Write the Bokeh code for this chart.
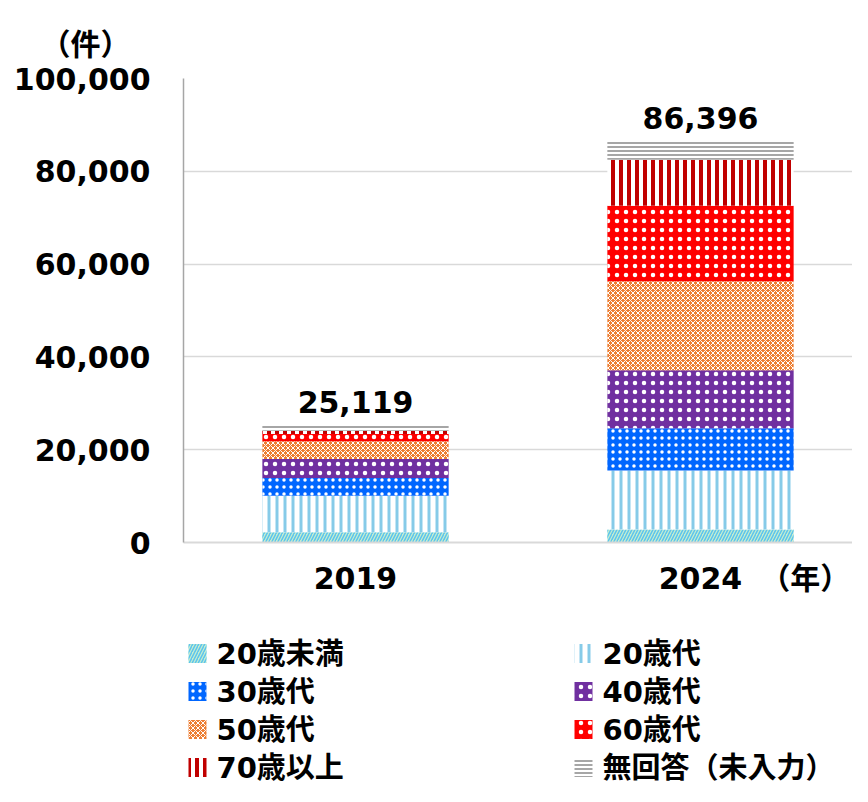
from bokeh.plotting import figure
from bokeh.layouts import column
from bokeh.models import (ColumnDataSource, FixedTicker, NumeralTickFormatter,
                          LabelSet, Range1d, Title)
from bokeh.core.properties import value
from bokeh.embed import file_html
from bokeh.resources import INLINE

# ---- data ----
years = ["2019", "2024"]
groups = ["20歳未満", "20歳代", "30歳代", "40歳代", "50歳代", "60歳代", "70歳以上", "無回答（未入力）"]
under20 = [2200, 2800]
age20s = [7900, 12700]
age30s = [3800, 9100]
age40s = [4100, 12500]
age50s = [3800, 19200]
age60s = [1600, 16300]
age70plus = [700, 9900]
no_answer = [1019, 3896]
y_ticks = [0, 20000, 40000, 60000, 80000, 100000]
y_unit = "（件）"
x_unit = "（年）"

series = [under20, age20s, age30s, age40s, age50s, age60s, age70plus, no_answer]
totals = [sum(v) for v in zip(*series)]
xpos = list(range(len(years)))

# ---- styles ----
FONT = "'DejaVu Sans', 'Noto Sans CJK JP'"
fills = ["#C4EDCF", "white", "#0066FF", "#7030A0", "#ED7D31", "#FF0000", "white", "white"]
hatches = ["/", "|", ".", ".", "x", ".", "|", "-"]
hcolors = ["#5BC4EE", "#86CBE8", "white", "white", "white", "white", "#C00000", "#A6A6A6"]
hscales = [6, 8, 7, 9, 5, 9, 8, 4]
hweights = [1.5, 3, 2, 2, 1, 2, 4, 2]

data = {"x": xpos}
for g, s in zip(groups, series):
    data[g] = s
source = ColumnDataSource(data)

# ---- main chart ----
p = figure(width=852, height=610, output_backend="svg", toolbar_location=None,
           x_range=Range1d(-0.4986, 1.4406), y_range=Range1d(0, 100000),
           min_border_left=183, min_border_right=0, min_border_top=78, min_border_bottom=68)
p.outline_line_color = None
p.background_fill_color = "white"
p.border_fill_color = "white"

p.vbar_stack(groups, x="x", width=0.54, source=source,
             fill_color=fills, hatch_pattern=hatches, hatch_color=hcolors,
             hatch_scale=hscales, hatch_weight=hweights, line_color=None)

p.xgrid.grid_line_color = None
p.ygrid.grid_line_color = "#D9D9D9"
p.ygrid.grid_line_width = 1.5
p.ygrid.ticker = FixedTicker(ticks=y_ticks)

p.yaxis.ticker = FixedTicker(ticks=y_ticks)
p.yaxis.formatter = NumeralTickFormatter(format="0,0")
p.yaxis.major_label_text_font = FONT
p.yaxis.major_label_text_font_style = "bold"
p.yaxis.major_label_text_font_size = "30px"
p.yaxis.major_label_text_color = "black"
p.yaxis.major_label_standoff = 27
p.yaxis.major_tick_line_color = None
p.yaxis.minor_tick_line_color = None
p.yaxis.axis_line_color = "#A6A6A6"
p.yaxis.axis_line_width = 1.5

unit_pos = xpos[-1] + 0.304
p.xaxis.ticker = FixedTicker(ticks=xpos + [unit_pos])
overrides = {i: y for i, y in zip(xpos, years)}
overrides[unit_pos] = x_unit
p.xaxis.major_label_overrides = overrides
p.xaxis.major_label_text_font = FONT
p.xaxis.major_label_text_font_style = "bold"
p.xaxis.major_label_text_font_size = "30px"
p.xaxis.major_label_text_color = "black"
p.xaxis.major_label_standoff = 12
p.xaxis.major_tick_line_color = None
p.xaxis.minor_tick_line_color = None
p.xaxis.axis_line_color = "#D9D9D9"
p.xaxis.axis_line_width = 2

lab_src = ColumnDataSource({"x": xpos, "y": totals, "t": [f"{t:,}" for t in totals]})
p.add_layout(LabelSet(x="x", y="y", text="t", source=lab_src, text_align="center",
                      text_baseline="alphabetic", y_offset=13, text_font=value(FONT),
                      text_font_style="bold", text_font_size="30px", text_color="black"))

p.add_layout(Title(text=y_unit, align="left", offset=-143, standoff=30, vertical_align="top",
                   text_font=FONT, text_font_style="bold", text_font_size="30px",
                   text_color="black"), "above")

# ---- legend panel (2 columns, read row by row); its frame aligns with the chart frame ----
LX0, LX1, LH = 183, 852, 176
col_x = [188, 574]
row_y0, row_pitch = 43, 38
sw_x = [col_x[i % 2] + 9 for i in range(len(groups))]
sw_y = [row_y0 + row_pitch * (i // 2) for i in range(len(groups))]
tx = [col_x[i % 2] + 28 for i in range(len(groups))]
leg_src = ColumnDataSource({"sx": sw_x, "sy": sw_y, "tx": tx, "label": groups,
                            "fill": fills, "hatch": hatches, "hcolor": hcolors,
                            "hscale": hscales, "hweight": hweights})

lg = figure(width=852, height=LH, output_backend="svg", toolbar_location=None,
            x_range=Range1d(LX0, LX1), y_range=Range1d(LH, 0), min_border=0)
lg.axis.visible = False
lg.grid.visible = False
lg.outline_line_color = None
lg.background_fill_color = "white"
lg.border_fill_color = "white"
lg.rect(x="sx", y="sy", width=18, height=19, source=leg_src, fill_color="fill",
        hatch_pattern="hatch", hatch_color="hcolor", hatch_scale="hscale",
        hatch_weight="hweight", line_color=None)
lg.text(x="tx", y="sy", text="label", source=leg_src, text_font=value(FONT),
        text_font_style="bold", text_font_size="29px", text_color="black",
        text_align="left", text_baseline="middle")

layout = column(p, lg, spacing=0)
open("out.html", "w").write(file_html(layout, INLINE))
